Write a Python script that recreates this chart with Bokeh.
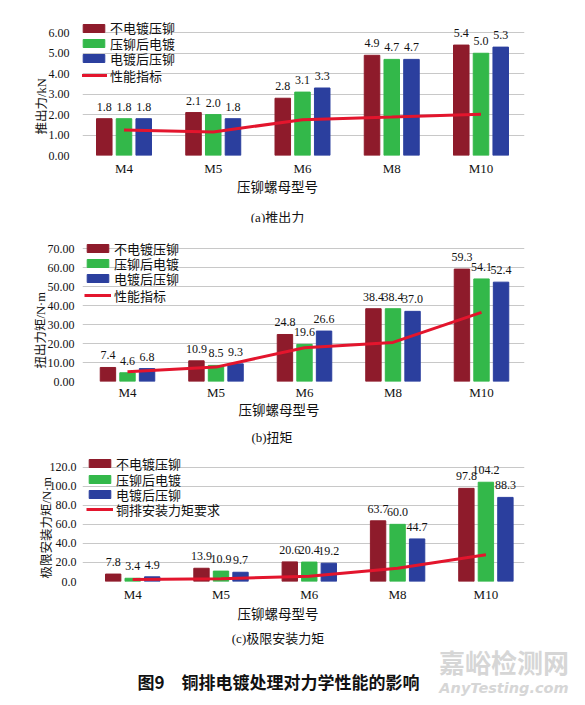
from bokeh.plotting import figure
from bokeh.models import (Range1d, FixedTicker, NumeralTickFormatter, LabelSet,
                          Legend, LegendItem, ColumnDataSource, Title, Div)
from bokeh.layouts import column
from bokeh.transform import dodge
from bokeh.embed import file_html
from bokeh.resources import INLINE
from bokeh.core.properties import value

# ---------------- data ----------------
categories = ["M4", "M5", "M6", "M8", "M10"]
series_names = ["不电镀压铆", "压铆后电镀", "电镀后压铆"]

push_plain = [1.8, 2.1, 2.8, 4.9, 5.4]
push_rivet_plate = [1.8, 2.0, 3.1, 4.7, 5.0]
push_plate_rivet = [1.8, 1.8, 3.3, 4.7, 5.3]
push_spec = [1.25, 1.15, 1.75, 1.88, 2.02]

torque_plain = [7.4, 10.9, 24.8, 38.4, 59.3]
torque_rivet_plate = [4.6, 8.5, 19.6, 38.4, 54.1]
torque_plate_rivet = [6.8, 9.3, 26.6, 37.0, 52.4]
torque_spec = [5.2, 7.6, 17.8, 20.6, 36.5]

limit_plain = [7.8, 13.9, 20.6, 63.7, 97.8]
limit_rivet_plate = [3.4, 10.9, 20.4, 60.0, 104.2]
limit_plate_rivet = [4.9, 9.7, 19.2, 44.7, 88.3]
limit_spec = [2.0, 3.0, 5.5, 14.0, 28.0]

push_ticks = [0, 1, 2, 3, 4, 5, 6]
torque_ticks = [0, 10, 20, 30, 40, 50, 60, 70]
limit_ticks = [0, 20, 40, 60, 80, 100, 120]

# ---------------- style ----------------
BAR_COLORS = ["#8E1B2B", "#33B84A", "#2B3F9E"]
LINE_COLOR = "#E3152D"
SERIF = "Liberation Serif"
MIXED = "Liberation Serif, Noto Sans CJK SC"
TXT = "#111111"
OFFSETS = [-0.221, 0.0, 0.221]
BAR_W = 0.174
W = 580
FL, FR = 82, 524   # common frame edges (page px)


def make_panel(vals, spec, spec_name, ticks, fmt, ylabel,
               fig_top, frame_top, frame_bottom, fig_bottom, top_tick_px, c0, step,
               legend_x, legend_centers, tick_standoff, ytick_standoff,
               ylabel_bottom, ylabel_standoff):
    frame_h = frame_bottom - frame_top
    y_end = ticks[-1] * frame_h / (frame_bottom - top_tick_px)
    x_start = (FL - c0) / step
    x_end = (FR - c0) / step

    p = figure(width=W, height=fig_bottom - fig_top, output_backend="svg",
               toolbar_location=None,
               x_range=Range1d(x_start, x_end), y_range=Range1d(0, y_end),
               min_border_left=FL, min_border_right=W - FR,
               min_border_top=frame_top - fig_top,
               min_border_bottom=fig_bottom - frame_bottom)
    p.outline_line_color = None

    src = ColumnDataSource(dict(
        x=list(range(len(categories))),
        s0=vals[0], s1=vals[1], s2=vals[2], spec=spec,
        t0=[f"{v:.1f}" for v in vals[0]],
        t1=[f"{v:.1f}" for v in vals[1]],
        t2=[f"{v:.1f}" for v in vals[2]],
    ))

    renderers = []
    for i in range(3):
        r = p.vbar(x=dodge("x", OFFSETS[i], range=p.x_range), top=f"s{i}", width=BAR_W,
                   source=src, fill_color=BAR_COLORS[i], line_color=BAR_COLORS[i])
        renderers.append((series_names[i], r))
        p.add_layout(LabelSet(x=dodge("x", OFFSETS[i], range=p.x_range), y=f"s{i}",
                              text=f"t{i}", source=src, y_offset=12,
                              text_align="center", text_baseline="middle",
                              text_font=value(SERIF), text_font_size="12px",
                              text_color=TXT))
    lr = p.line(x="x", y="spec", source=src, line_color=LINE_COLOR, line_width=3)
    renderers.append((spec_name, lr))

    # one legend per entry so each row sits where it does in the reference
    for (name, r), yc in zip(renderers, legend_centers):
        vy = frame_bottom - (yc + 10)
        lg = Legend(items=[LegendItem(label=name, renderers=[r])],
                    location=(legend_x, vy), orientation="vertical",
                    background_fill_alpha=0, border_line_color=None,
                    padding=0, margin=0, spacing=0, label_height=20,
                    glyph_height=10, glyph_width=27, label_standoff=3,
                    label_text_font=MIXED, label_text_font_size="13px",
                    label_text_color=TXT)
        p.add_layout(lg)

    p.xgrid.visible = False
    p.ygrid.grid_line_color = "#C8C8C8"
    p.ygrid.grid_line_width = 1
    p.yaxis.ticker = FixedTicker(ticks=ticks)
    p.yaxis.formatter = NumeralTickFormatter(format=fmt)
    p.yaxis.axis_line_color = None
    p.yaxis.major_tick_line_color = None
    p.yaxis.minor_tick_line_color = None
    p.yaxis.major_label_standoff = ytick_standoff
    p.yaxis.major_label_text_font = SERIF
    p.yaxis.major_label_text_font_size = "12px"
    p.yaxis.major_label_text_color = TXT

    p.xaxis.ticker = FixedTicker(ticks=list(range(len(categories))))
    p.xaxis.major_label_overrides = {i: c for i, c in enumerate(categories)}
    p.xaxis.axis_line_color = None
    p.xaxis.major_tick_line_color = None
    p.xaxis.minor_tick_line_color = None
    p.xaxis.major_label_standoff = tick_standoff
    p.xaxis.major_label_text_font = SERIF
    p.xaxis.major_label_text_font_size = "13px"
    p.xaxis.major_label_text_color = TXT

    p.add_layout(Title(text=ylabel, align="left", vertical_align="bottom",
                       offset=frame_bottom - ylabel_bottom, standoff=ylabel_standoff,
                       text_font=MIXED, text_font_style="normal",
                       text_font_size="12.5px", text_color=TXT), "left")
    return p


CSS_MIXED = "'Liberation Serif','Noto Sans CJK SC',serif"
CSS_CJK = "'Noto Sans CJK SC',sans-serif"


def make_strip(top, bottom, texts):
    h = bottom - top
    spans = []
    for (txt, px, py, font, size, weight, style, color) in texts:
        spans.append(
            f'<span style="position:absolute;left:{px}px;top:{py - top}px;'
            f'transform:translate(-50%,-50%);white-space:nowrap;line-height:1;'
            f'font-family:{font};font-size:{size};font-weight:{weight};'
            f'font-style:{style};color:{color};">{txt}</span>')
    html = (f'<div style="position:relative;width:{W}px;height:{h}px;margin:0;padding:0;">'
            + "".join(spans) + '</div>')
    return Div(text=html, width=W, height=h, margin=0)


XLABEL = "压铆螺母型号"

pa = make_panel([push_plain, push_rivet_plate, push_plate_rivet], push_spec, "性能指标",
                push_ticks, "0.00", "推出力/kN",
                fig_top=0, frame_top=14, frame_bottom=155, fig_bottom=180,
                top_tick_px=32.3, c0=123.5, step=89.25,
                legend_x=-2, legend_centers=[27.7, 43.3, 58.3, 75.0],
                tick_standoff=-1, ytick_standoff=7, ylabel_bottom=134, ylabel_standoff=-7)
sa = make_strip(180, 222, [
    (XLABEL, 277.5, 188, CSS_MIXED, "13.5px", "normal", "normal", TXT),
    ("(a)推出力", 277.5, 217, CSS_MIXED, "13px", "normal", "normal", TXT),
])

pb = make_panel([torque_plain, torque_rivet_plate, torque_plate_rivet], torque_spec, "性能指标",
                torque_ticks, "0.00", "扭出力矩/N·m",
                fig_top=222, frame_top=233, frame_bottom=381, fig_bottom=405,
                top_tick_px=248.3, c0=127, step=88.5,
                legend_x=2, legend_centers=[248.3, 263.3, 278.3, 295.0],
                tick_standoff=-3, ytick_standoff=2, ylabel_bottom=368, ylabel_standoff=-7)
sb = make_strip(405, 445, [
    (XLABEL, 279, 411, CSS_MIXED, "13.5px", "normal", "normal", TXT),
    ("(b)扭矩", 272, 436.5, CSS_MIXED, "13px", "normal", "normal", TXT),
])

pc = make_panel([limit_plain, limit_rivet_plate, limit_plate_rivet], limit_spec, "铜排安装力矩要求",
                limit_ticks, "0.0", "极限安装力矩/N·m",
                fig_top=445, frame_top=448, frame_bottom=581, fig_bottom=606,
                top_tick_px=466.7, c0=132.2, step=88.3,
                legend_x=4, legend_centers=[463.3, 479.0, 494.3, 509.3],
                tick_standoff=-1, ytick_standoff=0, ylabel_bottom=578, ylabel_standoff=-15)
sc = make_strip(606, 700, [
    (XLABEL, 278, 615, CSS_MIXED, "13.5px", "normal", "normal", TXT),
    ("(c)极限安装力矩", 278, 638, CSS_MIXED, "13px", "normal", "normal", TXT),
    ("嘉峪检测网", 504, 662, CSS_CJK, "26px", "bold", "normal", "#D6D6D6"),
    ("AnyTesting.com", 504, 688, "'DejaVu Sans',sans-serif", "14.5px", "bold", "italic", "#D6D6D6"),
    ("图9　铜排电镀处理对力学性能的影响", 278.5, 681, CSS_CJK, "17px", "bold", "normal", TXT),
])

layout = column(pa, sa, pb, sb, pc, sc, spacing=0)
open("out.html", "w").write(file_html(layout, INLINE))
